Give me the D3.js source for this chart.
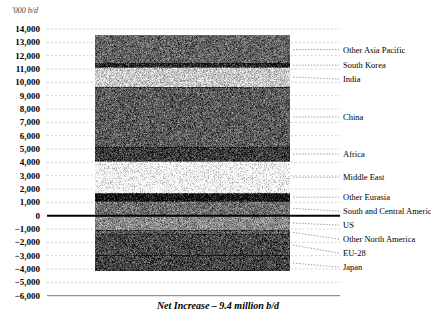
<!doctype html>
<html lang="en">
<head>
  <meta charset="utf-8" />
  <title>Net Increase</title>
  <script src="https://cdn.jsdelivr.net/npm/d3@7"></script>
  <style>
    body { margin: 0; background: #fff; }
  </style>
</head>
<body>
<script type="text/javascript">

  // segments of the single stacked bar, '000 b/d
  var posNames = ["South and Central America", "Other Eurasia", "Middle East", "Africa",
                  "China", "India", "South Korea", "Other Asia Pacific"];
  var posValues = [1100, 580, 2420, 1050, 4500, 1500, 280, 2050];
  var posTones = ["#6e6e6e", "#151515", "#f0f0f0", "#3a3a3a", "#5a5a5a", "#c8c8c8", "#262626", "#626262"];

  var negNames = ["US", "Other North America", "EU-28", "Japan"];
  var negValues = [-1100, -300, -1600, -1100];
  var negTones = ["#8a8a8a", "#5a5a5a", "#474747", "#444444"];

  var yTicks = [14000, 13000, 12000, 11000, 10000, 9000, 8000, 7000, 6000, 5000, 4000,
                3000, 2000, 1000, 0, -1000, -2000, -3000, -4000, -5000, -6000];

  var W = 431, H = 314;
  var serif = "'Liberation Serif', 'Times New Roman', Times, serif";

  var svg = d3.select("body").append("svg")
      .attr("width", W)
      .attr("height", H)
      .attr("font-family", serif);

  // grain, to look like the dithered print
  var f = svg.append("defs").append("filter")
      .attr("id", "grain").attr("x", 0).attr("y", 0).attr("width", 1).attr("height", 1)
      .attr("color-interpolation-filters", "sRGB");
  f.append("feTurbulence").attr("type", "fractalNoise").attr("baseFrequency", 1.5)
      .attr("numOctaves", 1).attr("seed", 4).attr("result", "n");
  f.append("feColorMatrix").attr("in", "n").attr("type", "matrix")
      .attr("values", "1 0 0 0 0  1 0 0 0 0  1 0 0 0 0  0 0 0 0 1").attr("result", "g");
  f.append("feComposite").attr("in", "SourceGraphic").attr("in2", "g")
      .attr("operator", "arithmetic")
      .attr("k1", 0).attr("k2", 1).attr("k3", 1.1).attr("k4", -0.55);

  var y = d3.scaleLinear()
    .domain([-6000, 14000])
    .range([295.7, 29]);

  var x0 = 47, x1 = 340;          // extent of grid lines
  var barL = 95, barR = 290;

  // unit label
  svg.append("text")
    .attr("x", 12).attr("y", 13)
    .attr("font-size", 8).attr("font-style", "italic")
    .attr("fill", "#444")
    .text("'000 b/d");

  // y tick labels
  svg.append("g").selectAll("text")
    .data(yTicks)
    .enter().append("text")
      .attr("x", 40)
      .attr("y", function(d) { return y(d) + 3; })
      .attr("text-anchor", "end")
      .attr("font-size", 9)
      .attr("font-weight", "bold")
      .attr("fill", "#000")
      .text(function(d) { return d3.format(",")(d); });

  // dotted grid
  svg.append("g").selectAll("line")
    .data(yTicks.filter(function(d) { return d != 0 && d != -6000; }))
    .enter().append("line")
      .attr("x1", x0).attr("x2", x1)
      .attr("y1", function(d) { return y(d); })
      .attr("y2", function(d) { return y(d); })
      .attr("stroke", "#aaa")
      .attr("stroke-width", 0.7)
      .attr("stroke-dasharray", "1.5,2.5");

  // build stack
  function stackUp(names, values, tones) {
    var ends = d3.cumsum(values);
    return names.map(function(n, i) {
      return { name: n, v0: i ? ends[i - 1] : 0, v1: ends[i], tone: tones[i] };
    });
  }
  var segs = stackUp(posNames, posValues, posTones)
      .concat(stackUp(negNames, negValues, negTones));

  svg.append("g").selectAll("rect")
    .data(segs)
    .enter().append("rect")
      .attr("x", barL)
      .attr("width", barR - barL)
      .attr("y", function(d) { return y(Math.max(d.v0, d.v1)); })
      .attr("height", function(d) { return Math.abs(y(d.v0) - y(d.v1)); })
      .attr("fill", function(d) { return d.tone; })
      .attr("filter", "url(#grain)");

  // zero line and base line
  svg.append("line")
    .attr("x1", x0).attr("x2", x1)
    .attr("y1", y(0)).attr("y2", y(0))
    .attr("stroke", "#000").attr("stroke-width", 2);

  svg.append("line")
    .attr("x1", x0).attr("x2", x1)
    .attr("y1", y(-6000)).attr("y2", y(-6000))
    .attr("stroke", "#777").attr("stroke-width", 1);

  // label placement: segment middles, pushed down where they would collide
  var labs = segs.map(function(d) {
    return { name: d.name, mid: y((d.v0 + d.v1) / 2) };
  }).sort(function(a, b) { return a.mid - b.mid; });
  var gap = 14;
  labs.forEach(function(d, i) {
    d.ly = i ? Math.max(d.mid, labs[i - 1].ly + gap) : d.mid;
  });

  svg.append("g").selectAll("line")
    .data(labs)
    .enter().append("line")
      .attr("x1", barR + 3).attr("x2", 339)
      .attr("y1", function(d) { return d.mid; })
      .attr("y2", function(d) { return d.ly; })
      .attr("stroke", "#777")
      .attr("stroke-width", 0.7)
      .attr("stroke-dasharray", "1.5,1.5");

  svg.append("g").selectAll("text")
    .data(labs)
    .enter().append("text")
      .attr("x", 343)
      .attr("y", function(d) { return d.ly + 3; })
      .attr("font-size", 8.5)
      .attr("fill", "#000")
      .text(function(d) { return d.name; });

  // caption
  svg.append("text")
    .attr("x", 218).attr("y", 309)
    .attr("text-anchor", "middle")
    .attr("font-size", 10)
    .attr("font-weight", "bold")
    .attr("font-style", "italic")
    .attr("fill", "#000")
    .text("Net Increase \u2013 9.4 million b/d");

</script>
</body>
</html>
